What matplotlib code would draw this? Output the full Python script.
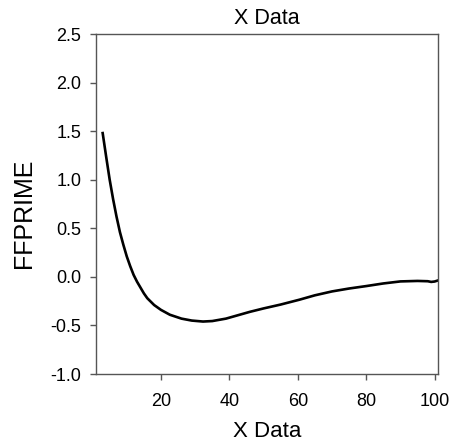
import matplotlib.pyplot as plt

plt.rcParams['font.family'] = ['Liberation Sans', 'DejaVu Sans']

# curve
x_data = [2.95, 4, 5, 6, 7, 8, 9, 10, 11, 12, 13, 14, 15, 16, 18, 20, 22.6,
          26, 29, 32.3, 35, 39, 42, 46, 50, 55, 60.5, 65, 70, 75, 80, 85, 90,
          95, 98, 99, 100, 101]
ffprime = [1.48, 1.23, 1.00, 0.80, 0.62, 0.46, 0.33, 0.21, 0.11, 0.02, -0.05,
           -0.11, -0.17, -0.22, -0.29, -0.34, -0.39, -0.43, -0.45, -0.46,
           -0.455, -0.43, -0.40, -0.36, -0.325, -0.285, -0.235, -0.19, -0.15,
           -0.12, -0.095, -0.068, -0.047, -0.042, -0.045, -0.052, -0.048,
           -0.037]

fig = plt.figure(figsize=(4.52, 4.48), dpi=100)
ax = fig.add_axes([96 / 452, 1 - 374 / 448, 342 / 452, 340 / 448])

ax.plot(x_data, ffprime, color='black', linewidth=1.9)

ax.set_xlim(1, 101)
ax.set_ylim(-1.0, 2.5)
ax.set_xticks([20, 40, 60, 80, 100])
ax.set_yticks([-1.0, -0.5, 0.0, 0.5, 1.0, 1.5, 2.0, 2.5])
ax.set_yticklabels(['-1.0', '-0.5', '0.0', '0.5', '1.0', '1.5', '2.0', '2.5'])

for sp in ax.spines.values():
    sp.set_color('#555555')
    sp.set_linewidth(1.0)
ax.tick_params(axis='both', direction='out', length=4, width=1,
               colors='#555555', labelcolor='black', labelsize=13)
ax.tick_params(axis='x', pad=10)
ax.tick_params(axis='y', pad=6.5)

ax.set_title('X Data', fontsize=15.5, pad=7)
ax.set_xlabel('X Data', fontsize=16)
ax.set_ylabel('FFPRIME', fontsize=18)
ax.xaxis.set_label_coords(0.5, -0.138)
ax.yaxis.set_label_coords(-0.175, 0.473)

fig.savefig('out.png', dpi=100)
